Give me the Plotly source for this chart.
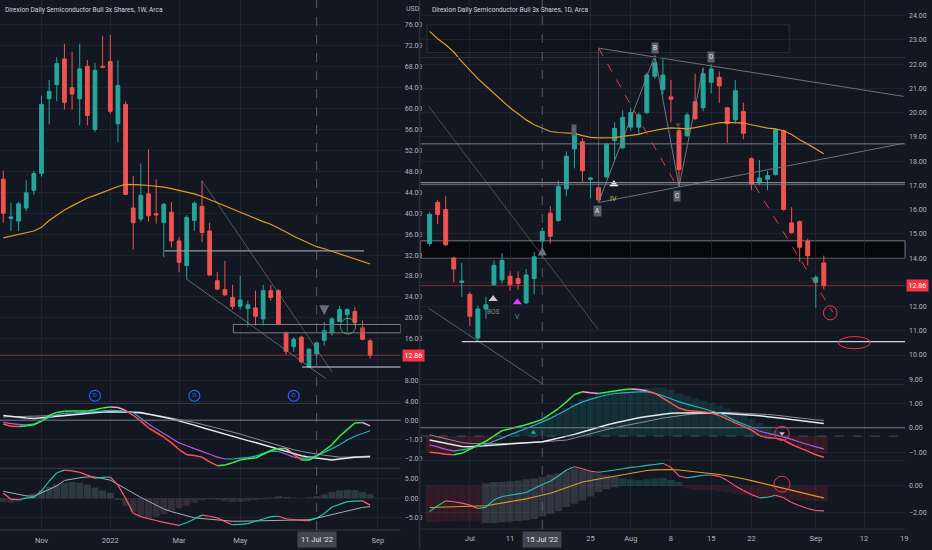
import plotly.graph_objects as go
import pandas as pd

W_PX, H_PX = 932, 550
BG = "#131722"
GRID = "rgba(42,46,57,0.55)"
TXT = "#b2b5be"
UP, DN = "#26a69a", "#ef5350"

# ---------------- weekly data (left chart) ----------------
w_cal = pd.date_range("2021-09-27", periods=54, freq="W-MON")
w_open = [46.5, 39.0, 38.5, 41.0, 44.4, 47.6, 61.9, 64.6, 69.5, 64.0, 61.9, 68.1, 56.0, 68.1, 69.0, 57.1, 60.8,
          41.0, 38.9, 43.7, 39.9, 38.2, 40.2, 34.7, 30.0, 38.6, 41.3, 36.6, 27.1, 25.4, 23.9, 22.2, 21.8, 21.9,
          19.8, 25.2, 25.2, 17.1, 14.5, 16.3, 10.6, 13.1, 15.7, 17.1, 19.3, 20.6, 21.2, 18.1, 15.6]
w_high = [48.1, 42.0, 42.2, 46.3, 48.1, 62.5, 65.5, 69.8, 72.4, 70.9, 72.4, 69.3, 68.7, 73.9, 74.1, 69.2, 61.4,
          47.1, 49.5, 52.2, 46.5, 42.0, 42.1, 35.5, 39.6, 42.3, 46.2, 38.2, 28.8, 30.9, 26.3, 28.0, 23.3, 25.2,
          26.3, 26.3, 25.5, 17.4, 16.3, 16.6, 14.2, 15.4, 19.2, 20.1, 22.3, 21.8, 22.0, 19.5, 15.9]
w_low = [38.2, 36.6, 36.6, 40.4, 43.5, 47.0, 57.0, 61.4, 59.8, 59.8, 56.8, 56.8, 55.5, 67.7, 59.0, 53.6, 43.5,
         33.1, 38.4, 38.4, 38.0, 31.6, 33.5, 28.7, 27.4, 36.6, 34.5, 28.0, 25.3, 24.2, 21.6, 21.6, 18.2, 18.5,
         18.5, 23.3, 18.6, 13.0, 13.5, 11.3, 10.4, 12.2, 14.7, 16.6, 19.2, 17.4, 18.5, 15.7, 12.2]
w_close = [40.0, 39.3, 41.8, 43.9, 47.6, 60.8, 63.3, 68.6, 61.2, 62.8, 67.6, 58.7, 67.3, 67.9, 59.5, 64.4, 43.6,
           38.2, 43.4, 39.5, 39.7, 41.7, 34.7, 30.6, 39.2, 41.9, 36.3, 28.2, 25.5, 24.4, 22.2, 23.4, 22.5, 20.3,
           25.2, 23.9, 18.7, 13.6, 15.9, 11.6, 14.0, 15.2, 17.6, 19.8, 21.6, 21.6, 19.1, 15.9, 12.86]
w_ma = [35.3, 35.6, 35.9, 36.2, 36.6, 37.3, 38.6, 39.6, 40.6, 41.4, 42.2, 42.9, 43.4, 44.0, 44.6, 45.1, 45.5,
        45.5, 45.4, 45.3, 45.2, 45.0, 44.7, 44.4, 44.1, 43.7, 43.2, 42.6, 42.0, 41.4, 40.8, 40.2, 39.6, 38.9,
        38.4, 37.9, 37.2, 36.4, 35.6, 34.9, 34.2, 33.6, 33.2, 32.7, 32.2, 31.7, 31.2, 30.8, 30.3]
w_macd_fast = [-0.2, -0.32, -0.33, -0.3, -0.24, -0.05, 0.25, 0.41, 0.47, 0.48, 0.48, 0.48, 0.55, 0.65, 0.7, 0.67,
               0.52, 0.26, -0.05, -0.4, -0.65, -0.9, -1.2, -1.55, -1.82, -1.87, -1.95, -2.2, -2.4, -2.37, -2.25,
               -2.1, -2.03, -2.0, -1.8, -1.6, -1.5, -1.5, -1.8, -2.1, -2.1, -1.9, -1.6, -1.3, -0.85, -0.5, -0.15,
               -0.12, -0.3]
w_macd_sig = [-0.12, -0.18, -0.22, -0.25, -0.2, -0.05, 0.15, 0.3, 0.36, 0.38, 0.4, 0.42, 0.45, 0.48, 0.5, 0.5,
              0.45, 0.4, 0.1, -0.2, -0.45, -0.7, -0.95, -1.2, -1.35, -1.5, -1.65, -1.8, -1.95, -2.05, -2.05, -2.0,
              -1.98, -1.9, -1.75, -1.65, -1.65, -1.8, -1.95, -2.0, -2.0, -1.85, -1.7, -1.5, -1.3, -1.05, -0.85,
              -0.7, -0.56]
w_slow_white = [0.25, 0.2, 0.15, 0.11, 0.09, 0.13, 0.17, 0.21, 0.25, 0.29, 0.33, 0.37, 0.4, 0.43, 0.44, 0.44, 0.43,
                0.42, 0.4, 0.33, 0.25, 0.16, 0.07, -0.03, -0.13, -0.26, -0.39, -0.51, -0.64, -0.76, -0.88, -0.98,
                -1.08, -1.18, -1.3, -1.42, -1.54, -1.66, -1.78, -1.88, -1.95, -2.0, -2.06, -2.1, -2.05, -1.99,
                -1.96, -1.94, -1.93]
w_slow_grey = [0.17, 0.18, 0.19, 0.2, 0.21, 0.22, 0.23, 0.24, 0.26, 0.3, 0.35, 0.4, 0.45, 0.5, 0.53, 0.51, 0.46,
               0.42, 0.38, 0.33, 0.26, 0.19, 0.12, 0.05, -0.02, -0.12, -0.22, -0.32, -0.42, -0.52, -0.61, -0.73,
               -0.86, -0.98, -1.11, -1.24, -1.36, -1.46, -1.56, -1.65, -1.73, -1.79, -1.85, -1.9, -1.95, -1.95,
               -1.93, -1.91, -1.89]
w_osc = [1.3, -0.3, -0.4, 0.0, 0.2, 1.9, 4.4, 6.6, 7.3, 7.1, 6.7, 6.0, 5.2, 5.4, 5.5, 3.4, 0.0, -3.9, -4.8, -5.3,
         -5.8, -6.3, -6.7, -7.05, -6.4, -5.4, -4.4, -4.7, -5.1, -6.1, -6.9, -6.8, -6.6, -6.0, -5.4, -4.8, -4.7,
         -5.35, -5.6, -5.8, -5.85, -5.2, -4.0, -2.3, -1.6, -0.9, -0.75, -0.7, -1.8]
w_osc_sig = [1.8, 1.4, 1.0, 0.6, 0.5, 1.4, 2.3, 3.2, 4.6, 5.0, 5.3, 5.55, 5.5, 5.1, 4.7, 3.6, 2.4, 1.2, 0.2, -0.8,
             -1.8, -2.8, -3.5, -4.0, -4.6, -5.1, -5.3, -5.5, -5.7, -5.9, -6.0, -6.0, -5.95, -5.9, -5.8, -5.7, -5.65,
             -5.6, -5.6, -5.6, -5.6, -5.2, -4.7, -4.2, -3.7, -3.2, -2.8, -2.4, -2.2]
w_hist = [-1.0, -1.2, -0.8, 0.3, 1.2, 2.2, 3.0, 3.6, 4.0, 4.2, 4.0, 3.5, 2.8, 2.0, 1.4, -0.5, -2.0, -3.5, -4.5,
          -5.0, -4.8, -4.2, -3.4, -2.6, -2.0, -1.2, -0.6, -0.3, -0.4, -0.8, -1.0, -0.9, -0.7, -0.5, -0.3, 0.2, 0.5,
          0.3, 0.1, 0.0, 0.2, 0.5, 1.0, 1.6, 2.0, 2.2, 2.1, 1.6, 1.0]
w_tick_dates = ["2021-11-01", "2022-01-03", "2022-03-07", "2022-05-02", "2022-09-05"]
w_tick_text = ["Nov", "2022", "Mar", "May", "Sep"]
w_price_ticks = [4, 8, 16, 20, 24, 28, 32, 36, 40, 44, 48, 52, 56, 60, 64, 68, 72, 76]
w_cross_date, w_cross_text = "2022-07-11", "11 Jul '22"
w_divid_dates = ["2021-12-20", "2022-03-21", "2022-06-20"]

# ---------------- daily data (right chart) ----------------
d_cal = pd.bdate_range("2022-06-24", "2022-09-30", freq="C", holidays=["2022-07-04", "2022-09-05"])
d_open = [14.6, 16.3, 16.0, 14.0, 13.0, 12.5, 10.7, 11.9, 12.9, 13.1, 13.25, 13.15, 12.15, 13.15, 14.7, 15.85,
          15.55, 16.85, 18.5, 18.8, 17.25, 16.9, 17.35, 18.85, 18.55, 19.4, 19.4, 20.0, 21.5, 20.95, 20.65, 19.25,
          19.05, 20.45, 20.2, 21.25, 21.45, 20.2, 19.7, 20.05, 18.1, 17.1, 17.25, 17.45, 19.25, 15.45, 15.5, 14.7,
          13.0, 13.8]
d_high = [15.9, 16.4, 16.55, 14.05, 13.8, 12.6, 12.05, 12.4, 13.9, 14.2, 13.45, 13.45, 13.55, 14.25, 15.25, 16.15,
          17.2, 18.4, 19.4, 18.95, 17.35, 17.0, 18.75, 19.6, 20.1, 20.2, 20.0, 21.65, 22.35, 22.2, 21.35, 19.4,
          20.0, 21.6, 21.85, 22.0, 21.7, 20.2, 21.35, 20.4, 18.15, 18.05, 17.6, 19.35, 19.3, 16.1, 15.55, 14.8,
          13.3, 14.1]
d_low = [14.5, 15.4, 14.5, 13.0, 12.4, 11.2, 10.55, 11.5, 12.85, 12.95, 12.65, 12.7, 12.1, 12.5, 14.25, 14.6,
         15.5, 16.55, 17.7, 17.15, 16.45, 16.3, 17.3, 18.05, 18.5, 19.25, 19.1, 19.95, 21.4, 20.75, 19.6, 16.95,
         19.0, 19.7, 20.05, 20.8, 20.4, 18.75, 19.55, 18.9, 16.8, 17.0, 16.8, 17.4, 15.95, 15.0, 13.85, 13.7,
         11.95, 12.7]
d_close = [15.8, 15.8, 14.55, 13.55, 13.05, 11.6, 11.9, 12.07, 13.7, 13.9, 12.9, 12.95, 13.3, 14.05, 15.1, 14.9,
           16.95, 18.2, 19.15, 17.6, 17.3, 16.4, 18.7, 19.35, 19.8, 20.0, 19.9, 21.55, 22.05, 21.55, 20.55, 17.65,
           19.9, 19.75, 21.6, 21.8, 21.1, 19.55, 20.9, 19.15, 17.05, 17.3, 17.4, 19.3, 16.0, 15.05, 14.45, 14.1,
           13.2, 12.86]
d_ma = [23.35, 23.05, 22.8, 22.5, 22.1, 21.75, 21.4, 21.1, 20.8, 20.5, 20.2, 19.95, 19.7, 19.5, 19.35, 19.22,
        19.18, 19.16, 19.14, 19.05, 18.98, 18.96, 18.96, 18.97, 19.02, 19.05, 19.1, 19.2, 19.27, 19.33, 19.37,
        19.35, 19.33, 19.38, 19.45, 19.52, 19.58, 19.6, 19.6, 19.57, 19.5, 19.42, 19.36, 19.33, 19.25, 19.1,
        18.88, 18.7, 18.5, 18.3]
d_macd_fast = [-1.0, -1.03, -1.08, -1.1, -1.04, -0.88, -0.7, -0.55, -0.33, -0.12, -0.04, 0.04, 0.12, 0.22, 0.34,
               0.55, 0.78, 1.05, 1.35, 1.46, 1.42, 1.39, 1.44, 1.49, 1.54, 1.57, 1.55, 1.5, 1.4, 1.2, 1.0, 0.8, 0.7,
               0.67, 0.65, 0.6, 0.5, 0.35, 0.2, 0.06, -0.09, -0.32, -0.41, -0.43, -0.5, -0.68, -0.82, -0.95, -1.1,
               -1.2]
d_macd_sig = [-0.7, -0.78, -0.88, -0.94, -0.9, -0.84, -0.76, -0.68, -0.55, -0.42, -0.28, -0.16, -0.03, 0.1, 0.24,
              0.38, 0.55, 0.72, 0.9, 1.05, 1.15, 1.25, 1.33, 1.39, 1.42, 1.44, 1.46, 1.46, 1.4, 1.3, 1.18, 1.05,
              0.96, 0.87, 0.78, 0.68, 0.6, 0.45, 0.28, 0.15, 0.02, -0.14, -0.22, -0.3, -0.37, -0.47, -0.58, -0.68,
              -0.78, -0.86]
d_slow_white = [-0.5, -0.56, -0.62, -0.7, -0.76, -0.77, -0.75, -0.72, -0.7, -0.68, -0.66, -0.64, -0.62, -0.6,
                -0.57, -0.5, -0.43, -0.36, -0.27, -0.17, -0.07, 0.03, 0.11, 0.19, 0.27, 0.35, 0.41, 0.46, 0.51,
                0.56, 0.59, 0.6, 0.61, 0.62, 0.62, 0.61, 0.6, 0.58, 0.57, 0.55, 0.52, 0.49, 0.45, 0.42, 0.38, 0.33,
                0.29, 0.25, 0.2, 0.17]
d_slow_grey = [-0.29, -0.37, -0.45, -0.53, -0.6, -0.64, -0.65, -0.65, -0.65, -0.65, -0.64, -0.64, -0.62, -0.6,
               -0.58, -0.55, -0.52, -0.5, -0.42, -0.33, -0.23, -0.15, -0.07, 0.0, 0.07, 0.14, 0.2, 0.27, 0.33,
               0.39, 0.44, 0.5, 0.53, 0.56, 0.59, 0.61, 0.62, 0.62, 0.61, 0.6, 0.58, 0.56, 0.54, 0.51, 0.48, 0.44,
               0.4, 0.36, 0.32, 0.3]
d_hist_top = [-1.0, -1.05, -1.05, -1.0, -0.95, -0.9, -0.8, -0.7, -0.55, -0.45, -0.35, -0.2, -0.05, 0.1, 0.25,
              0.4, 0.6, 0.8, 1.0, 1.15, 1.25, 1.35, 1.42, 1.48, 1.52, 1.55, 1.58, 1.6, 1.62, 1.62, 1.55, 1.4, 1.3,
              1.2, 1.1, 1.0, 0.9, 0.78, 0.65, 0.5, 0.35, 0.2, 0.05, -0.1, -0.5, -0.65, -0.8, -0.9, -1.0, -1.05]
d_osc = [-1.93, -1.5, -1.13, -1.2, -1.3, -1.45, -1.7, -1.6, -1.05, -0.8, -0.7, -0.6, -0.5, -0.2, 0.1, 0.35, 0.75,
         1.2, 1.45, 1.3, 1.1, 1.03, 1.1, 1.2, 1.3, 1.4, 1.45, 1.55, 1.62, 1.7, 1.4, 0.75, 0.62, 0.7, 0.8, 0.82,
         0.72, 0.4, 0.0, -0.35, -0.65, -0.9, -0.85, -0.7, -0.9, -1.25, -1.5, -1.7, -1.85, -1.88]
d_osc_sig = [-1.63, -1.62, -1.6, -1.58, -1.56, -1.54, -1.52, -1.5, -1.4, -1.31, -1.22, -1.13, -0.98, -0.84, -0.69,
             -0.55, -0.34, -0.13, 0.08, 0.3, 0.41, 0.52, 0.63, 0.75, 0.86, 0.96, 1.06, 1.16, 1.21, 1.24, 1.24, 1.2,
             1.14, 1.07, 1.02, 0.94, 0.86, 0.77, 0.68, 0.54, 0.4, 0.26, 0.13, -0.02, -0.17, -0.32, -0.47, -0.62,
             -0.77, -0.9]
d_osc_hist_low = [-2.7, -2.7, -2.65, -2.65, -2.6, -2.6, -2.6, -2.8, -2.8, -2.75, -2.7, -2.65, -2.6, -2.5, -2.3,
                  -2.1, -1.9, -1.6, -1.35, -1.1, -0.8, -0.45, -0.25, -0.1, 0.0, 0.0, 0.0, 0.0, 0.0, 0.0, 0.0, 0.0,
                  -0.2, -0.3, -0.35, -0.3, -0.4, -0.5, -0.6, -0.7, -0.8, -0.85, -0.9, -0.85, -0.9, -1.0, -1.1,
                  -1.15, -1.15, -1.15]
d_osc_hist_high = [0.0, 0.0, 0.0, 0.0, 0.0, 0.0, 0.0, 0.2, 0.3, 0.3, 0.35, 0.4, 0.5, 0.55, 0.7, 0.85, 0.95, 1.1,
                   1.3, 1.2, 1.1, 0.95, 0.85, 0.7, 0.55, 0.5, 0.45, 0.5, 0.55, 0.6, 0.45, 0.3, 0.0, 0.0, 0.0, 0.0,
                   0.0, 0.0, 0.0, 0.0, 0.0, 0.0, 0.0, 0.0, 0.0, 0.0, 0.0, 0.0, 0.0, 0.0]
d_tick_dates = ["2022-07-01", "2022-07-11", "2022-07-25", "2022-08-01", "2022-08-08",
                "2022-08-15", "2022-08-22", "2022-09-01", "2022-09-12", "2022-09-19"]
d_tick_text = ["Jul", "11", "25", "Aug", "8", "15", "22", "Sep", "12", "19"]
d_price_ticks = [9, 10, 11, 12, 14, 15, 16, 17, 18, 19, 20, 21, 22, 23, 24]
d_cross_date, d_cross_text = "2022-07-15", "15 Jul '22"
last_price = 12.86

# ---------------- helpers ----------------
w_x = list(range(len(w_close)))
d_x = list(range(len(d_close)))
wpos = lambda d: int(w_cal.get_loc(pd.Timestamp(d)))
dpos = lambda d: int(d_cal.get_loc(pd.Timestamp(d)))
px = lambda v: v / W_PX
py = lambda v: 1 - v / H_PX

fig = go.Figure()


def colored_line(x, y, colorfn, width, xa, ya):
    groups = {}
    for i in range(len(y) - 1):
        c = colorfn(i)
        gx, gy = groups.setdefault(c, ([], []))
        gx += [x[i], x[i + 1], None]
        gy += [y[i], y[i + 1], None]
    for c, (gx, gy) in groups.items():
        fig.add_trace(go.Scatter(x=gx, y=gy, mode="lines", line=dict(color=c, width=width), xaxis=xa, yaxis=ya,
                                 hoverinfo="skip", showlegend=False))


def line(x, y, color, width, xa, ya, dash="solid"):
    fig.add_trace(go.Scatter(x=x, y=y, mode="lines", line=dict(color=color, width=width, dash=dash),
                             xaxis=xa, yaxis=ya, hoverinfo="skip", showlegend=False))


def fast_color(fast, sig):
    def f(i):
        if fast[i + 1] >= fast[i]:
            return "#3ef03e"
        return "#f7a1c4" if fast[i + 1] > sig[i + 1] else "#ff5252"
    return f


def sig_color(sig):
    return lambda i: "#2ab0c8" if (sig[i + 1] >= sig[i] or sig[i + 1] > 0) else "#b558e0"


def osc_color(v):
    return lambda i: "#2cc0b0" if v[i + 1] >= v[i] else "#ff5b6e"


# ---------------- left chart traces ----------------
fig.add_trace(go.Bar(x=w_x, y=w_hist, xaxis="x3", yaxis="y3", width=0.92, hoverinfo="skip", showlegend=False,
                     marker=dict(color=["rgba(110,140,140,0.3)" if v >= 0 else "rgba(120,100,110,0.3)"
                                        for v in w_hist], line=dict(width=0))))
fig.add_trace(go.Candlestick(x=w_x, open=w_open, high=w_high, low=w_low, close=w_close, xaxis="x", yaxis="y",
                             increasing=dict(line=dict(color=UP, width=1), fillcolor=UP),
                             decreasing=dict(line=dict(color=DN, width=1), fillcolor=DN),
                             whiskerwidth=0, hoverinfo="skip", showlegend=False))
line(w_x, w_ma, "#e39b24", 1.2, "x", "y")
line(w_x, w_slow_grey, "#8c8f99", 1, "x2", "y2")
line(w_x, w_slow_white, "#e8e8ee", 1.5, "x2", "y2")
colored_line(w_x, w_macd_sig, sig_color(w_macd_sig), 1.2, "x2", "y2")
colored_line(w_x, w_macd_fast, fast_color(w_macd_fast, w_macd_sig), 1.5, "x2", "y2")
line(w_x, w_osc_sig, "#a9acb5", 1, "x3", "y3")
colored_line(w_x, w_osc, osc_color(w_osc), 1.2, "x3", "y3")

# dividend markers
div_x = [wpos(d) for d in w_divid_dates]
fig.add_trace(go.Scatter(x=div_x, y=[5.1] * len(div_x), mode="markers+text", text=["D"] * len(div_x),
                         textfont=dict(color="#2962ff", size=6, family="Roboto"),
                         marker=dict(symbol="circle-open", size=11, color="#2962ff", line=dict(width=1.2)),
                         xaxis="x", yaxis="y", hoverinfo="skip", showlegend=False))
# arrow marker
fig.add_trace(go.Scatter(x=[wpos("2022-07-18")], y=[w_high[42] + 1.3], mode="markers",
                         marker=dict(symbol="arrow-down", size=10, color="#6a6d78"),
                         xaxis="x", yaxis="y", hoverinfo="skip", showlegend=False))

# ---------------- right chart traces ----------------
fig.add_trace(go.Bar(x=d_x, y=[t + 0.34 for t in d_hist_top], base=-0.34, xaxis="x5", yaxis="y5", width=0.95,
                     hoverinfo="skip", showlegend=False,
                     marker=dict(color=["rgba(38,166,154,0.17)" if t > -0.34 else "rgba(242,54,69,0.15)"
                                        for t in d_hist_top], line=dict(width=0))))
fig.add_trace(go.Bar(x=d_x, y=[h - l for h, l in zip(d_osc_hist_high, d_osc_hist_low)], base=d_osc_hist_low,
                     xaxis="x6", yaxis="y6", width=0.95, hoverinfo="skip", showlegend=False,
                     marker=dict(color=["rgba(242,54,69,0.14)" if h <= 0 else
                                        ("rgba(38,166,154,0.25)" if l >= 0 else "rgba(140,145,155,0.25)")
                                        for h, l in zip(d_osc_hist_high, d_osc_hist_low)], line=dict(width=0))))
fig.add_trace(go.Candlestick(x=d_x, open=d_open, high=d_high, low=d_low, close=d_close, xaxis="x4", yaxis="y4",
                             increasing=dict(line=dict(color=UP, width=1), fillcolor=UP),
                             decreasing=dict(line=dict(color=DN, width=1), fillcolor=DN),
                             whiskerwidth=0, hoverinfo="skip", showlegend=False))
line(d_x, d_ma, "#e39b24", 1.2, "x4", "y4")
line(d_x, d_slow_grey, "#8c8f99", 1, "x5", "y5")
line(d_x, d_slow_white, "#e8e8ee", 1.5, "x5", "y5")
colored_line(d_x, d_macd_sig, sig_color(d_macd_sig), 1.2, "x5", "y5")
colored_line(d_x, d_macd_fast, fast_color(d_macd_fast, d_macd_sig), 1.5, "x5", "y5")
line(d_x, d_osc_sig, "#e39b24", 1.1, "x6", "y6")
colored_line(d_x, d_osc, osc_color(d_osc), 1.1, "x6", "y6")

# wave / structure points
A_i, B_i, C_i, D_i = 21, 28, 31, 35
line([A_i, B_i, C_i, D_i - 1], [d_low[A_i], d_high[B_i], d_low[C_i], d_high[D_i - 1]], "#8a8d96", 0.8, "x4", "y4")
line([A_i, 30.6], [22.66, 17.04], "#f23645", 1, "x4", "y4", "dash")
line([40.4, 50.1], [17.0, 11.77], "#f23645", 1, "x4", "y4", "dash")
line([A_i, 58.9], [22.66, 20.67], "#6f727c", 1, "x4", "y4")
line([A_i, 58.9], [16.29, 18.73], "#6f727c", 1, "x4", "y4")
line([A_i, A_i], [16.29, 22.66], "#5d606b", 0.8, "x4", "y4")
line([-0.12, 20.9], [20.26, 11.08], "rgba(130,160,140,0.55)", 0.8, "x4", "y4")
line([-0.12, 14.3], [11.93, 8.75], "#6f727c", 0.8, "x4", "y4")

fig.add_trace(go.Scatter(x=[22.9, 7.9], y=[17.04, 12.31], mode="markers",
                         marker=dict(symbol="triangle-up", size=8, color=["#ffffff", "#c8cad0"]),
                         xaxis="x4", yaxis="y4", hoverinfo="skip", showlegend=False))
fig.add_trace(go.Scatter(x=[10.9], y=[12.18], mode="markers",
                         marker=dict(symbol="triangle-up", size=8, color="#e040fb"),
                         xaxis="x4", yaxis="y4", hoverinfo="skip", showlegend=False))
fig.add_trace(go.Scatter(x=[14.0], y=[14.48], mode="markers",
                         marker=dict(symbol="arrow-up", size=9, color="#6a6d78"),
                         xaxis="x4", yaxis="y4", hoverinfo="skip", showlegend=False))
fig.add_trace(go.Scatter(x=[30.9], y=[19.5], mode="markers",
                         marker=dict(symbol="triangle-down", size=5, color="#4a4d57"),
                         xaxis="x4", yaxis="y4", hoverinfo="skip", showlegend=False))
fig.add_trace(go.Scatter(x=[12.9], y=[-0.19], mode="markers",
                         marker=dict(symbol="triangle-up", size=5, color="#26a69a"),
                         xaxis="x5", yaxis="y5", hoverinfo="skip", showlegend=False))
fig.add_trace(go.Scatter(x=[43.8], y=[-0.23], mode="markers",
                         marker=dict(symbol="triangle-down", size=5, color="#f7a1c4"),
                         xaxis="x5", yaxis="y5", hoverinfo="skip", showlegend=False))

# ---------------- axes ----------------
L_DOM = [0, px(402)]
R_DOM = [px(422), px(908)]
L_XR = [-0.43, 52.0]
R_XR = [-1.115, 59.1]
tickfont = dict(family="Roboto", size=7, color=TXT)

w_tick_x = [wpos(d) for d in w_tick_dates]
d_tick_x = [dpos(d) for d in d_tick_dates]


def xax(dom, rng, tv, tt, anchor, show):
    return dict(domain=dom, range=rng, anchor=anchor, tickvals=tv, ticktext=tt, showticklabels=show,
                showgrid=True, gridcolor=GRID, gridwidth=1, zeroline=False, showline=False, ticks="",
                tickfont=dict(family="Roboto", size=7.5, color=TXT), ticklabelstandoff=4,
                rangeslider=dict(visible=False), fixedrange=True)


def yax(dom, rng, tv, anchor):
    return dict(domain=dom, range=rng, anchor=anchor, side="right", tickvals=tv, tickformat=".2f",
                showgrid=True, gridcolor=GRID, gridwidth=1, zeroline=False, showline=False, ticks="",
                tickfont=tickfont, ticklabelstandoff=3, fixedrange=True)


fig.update_layout(
    width=W_PX, height=H_PX, margin=dict(l=0, r=0, t=0, b=0),
    paper_bgcolor=BG, plot_bgcolor=BG, showlegend=False, hovermode=False, boxgap=0.3, barmode="overlay",
    xaxis=xax(L_DOM, L_XR, w_tick_x, w_tick_text, "y", False),
    xaxis2=xax(L_DOM, L_XR, w_tick_x, w_tick_text, "y2", False),
    xaxis3=xax(L_DOM, L_XR, w_tick_x, w_tick_text, "y3", True),
    xaxis4=xax(R_DOM, R_XR, d_tick_x, d_tick_text, "y4", False),
    xaxis5=xax(R_DOM, R_XR, d_tick_x, d_tick_text, "y5", False),
    xaxis6=xax(R_DOM, R_XR, d_tick_x, d_tick_text, "y6", True),
    yaxis=yax([py(405), 1], [3.62, 80.76], w_price_ticks, "x"),
    yaxis2=yax([py(470), py(405)], [-2.54, 0.88], [0, -1, -2], "x2"),
    yaxis3=yax([py(532), py(470)], [-8.29, 7.77], [5, 0, -5], "x3"),
    yaxis4=yax([py(386), 1], [8.78, 24.645], d_price_ticks, "x4"),
    yaxis5=yax([py(462), py(386)], [-1.324, 1.753], [1, 0, -1], "x5"),
    yaxis6=yax([py(530), py(462)], [-3.18, 1.93], [0, -2], "x6"),
)

# ---------------- shapes ----------------
shapes = []


def hline(xref, yref, y, color, width=1, x0=0, x1=1, dash="solid", layer="above"):
    shapes.append(dict(type="line", xref=xref, yref=yref, x0=x0, x1=x1, y0=y, y1=y, layer=layer,
                       line=dict(color=color, width=width, dash=dash)))


def seg(xref, yref, x0, y0, x1, y1, color, width=1, dash="solid"):
    shapes.append(dict(type="line", xref=xref, yref=yref, x0=x0, x1=x1, y0=y0, y1=y1, layer="above",
                       line=dict(color=color, width=width, dash=dash)))


# pane separators
for yy in (405, 470, 532):
    seg("paper", "paper", 0, py(yy), px(402), py(yy), "#363a45", 1)
for yy in (386, 462, 531):
    seg("paper", "paper", px(422), py(yy), px(908), py(yy), "#2a2e39", 1)
seg("paper", "paper", px(421), 0, px(421), 1, "#2a2e39", 1.5)

# left drawings
hline("x domain", "y", 12, GRID, 1, layer="below")
hline("x domain", "y", last_price, "rgba(242,54,69,0.55)", 1)
seg("x", "y", 21.1, 32.8, 47.2, 32.8, "#9598a1", 1.2)
seg("x", "y", 26.0, w_high[26], 43.0, 9.7, "rgba(140,170,155,0.6)", 0.8)
seg("x", "y", 24.0, w_low[24], 42.2, 8.38, "#7d808a", 0.8)
shapes.append(dict(type="rect", xref="x", yref="y", x0=30.1, x1=52.0, y0=17.14, y1=18.73, layer="above",
                   fillcolor="rgba(0,0,0,0.15)", line=dict(color="#787b86", width=1)))
seg("x", "y", 39.1, 10.6, 52.0, 10.6, "#d1d4dc", 1.2)
shapes.append(dict(type="circle", xref="x", yref="y", x0=44.1, x1=46.1, y0=16.9, y1=19.9, layer="above",
                   line=dict(color="rgba(110,180,140,0.75)", width=1)))
hline("x2 domain", "y2", 0, "#787b86", 1)
seg("x", "paper", wpos(w_cross_date), py(532), wpos(w_cross_date), 1, "#6a6d78", 0.8, "dash")

# right drawings
shapes.append(dict(type="rect", xref="x4", yref="y4", x0=-0.33, x1=44.7, y0=22.48, y1=23.62, layer="below",
                   fillcolor="rgba(10,12,18,0.35)", line=dict(color="#2a2e39", width=1)))
hline("x4 domain", "y4", 22.27, "#2a2e39", 1)
shapes.append(dict(type="rect", xref="x4 domain", yref="y4", x0=0, x1=1, y0=13.99, y1=14.71, layer="below",
                   fillcolor="#06070b", line=dict(color="#787b86", width=1)))
hline("x4 domain", "y4", 18.71, "#787b86", 1)
hline("x4 domain", "y4", 17.11, "#9598a1", 1)
hline("x4 domain", "y4", 17.04, "#787b86", 0.8)
hline("x4 domain", "y4", 13, GRID, 1, layer="below")
hline("x4 domain", "y4", last_price, "rgba(242,54,69,0.55)", 1)
seg("x4", "y4", 4.0, 10.55, R_XR[1], 10.55, "#d1d4dc", 1.2)
shapes.append(dict(type="circle", xref="x4", yref="y4", x0=48.95, x1=50.65, y0=11.45, y1=12.03, layer="above",
                   line=dict(color="#f23645", width=1)))
shapes.append(dict(type="circle", xref="x4", yref="y4", x0=50.8, x1=54.8, y0=10.26, y1=10.76, layer="above",
                   line=dict(color="#f23645", width=1)))
hline("x5 domain", "y5", 0, "#787b86", 1)
hline("x5 domain", "y5", -0.34, "#5d606b", 0.8, dash="dash")
shapes.append(dict(type="circle", xref="x5", yref="y5", x0=42.9, x1=44.7, y0=-0.52, y1=0.06, layer="above",
                   line=dict(color="#f23645", width=1)))
shapes.append(dict(type="circle", xref="x6", yref="y6", x0=42.8, x1=44.8, y0=-0.47, y1=0.73, layer="above",
                   line=dict(color="#f23645", width=1)))
seg("x4", "paper", dpos(d_cross_date), py(531), dpos(d_cross_date), 1, "#6a6d78", 0.8, "dash")

fig.update_layout(shapes=shapes)

# ---------------- annotations ----------------
ann = []
titlefont = dict(family="Roboto", size=6.6, color="#d1d4dc")
ann.append(dict(text="Direxion Daily Semiconductor Bull 3x Shares, 1W, Arca", xref="paper", yref="paper",
                x=px(3), y=py(10), xanchor="left", yanchor="middle", showarrow=False, font=titlefont))
ann.append(dict(text="Direxion Daily Semiconductor Bull 3x Shares, 1D, Arca", xref="paper", yref="paper",
                x=px(431), y=py(10), xanchor="left", yanchor="middle", showarrow=False, font=titlefont))
ann.append(dict(text="USD", xref="paper", yref="paper", x=px(405), y=py(9), xanchor="left", yanchor="middle",
                showarrow=False, font=dict(family="Roboto", size=7, color=TXT)))
for xr, yr, xp in (("paper", "y", 402), ("paper", "y4", 908)):
    ann.append(dict(text="%.2f" % last_price, xref=xr, yref=yr, x=px(xp + 1), y=last_price, xanchor="left",
                    yanchor="middle", showarrow=False, bgcolor="#f23645", borderpad=1.5,
                    font=dict(family="Roboto", size=7, color="#ffffff")))
for xr, xv, txt in (("x3", wpos(w_cross_date), w_cross_text), ("x6", dpos(d_cross_date), d_cross_text)):
    ann.append(dict(text=txt, xref=xr, yref="paper", x=xv, y=py(541), xanchor="center", yanchor="middle",
                    showarrow=False, bgcolor="#434651", borderpad=3,
                    font=dict(family="Roboto", size=7.5, color="#e0e3eb")))
lbl = dict(showarrow=False, bgcolor="#5d606b", borderpad=1, font=dict(family="Roboto", size=6.5, color="#e0e3eb"),
           xref="x4", yref="y4", xanchor="center", yanchor="middle")
ann.append(dict(lbl, text="B", x=B_i, y=d_high[B_i] + 0.33))
ann.append(dict(lbl, text="D", x=D_i, y=d_high[D_i] + 0.3))
ann.append(dict(lbl, text="A", x=A_i - 0.1, y=d_low[A_i] - 0.36))
ann.append(dict(lbl, text="C", x=C_i - 0.2, y=d_low[C_i] - 0.4))
ann.append(dict(lbl, text="·", x=18, y=d_high[18] - 0.1))
ann.append(dict(text="IV", x=22.8, y=16.43, xref="x4", yref="y4", showarrow=False,
                font=dict(family="Roboto", size=7, color="#c8c83a")))
ann.append(dict(text="BOS", x=7.9, y=11.78, xref="x4", yref="y4", showarrow=False,
                font=dict(family="Roboto", size=6.5, color="#8a8d96")))
ann.append(dict(text="V", x=10.9, y=11.56, xref="x4", yref="y4", showarrow=False,
                font=dict(family="Roboto", size=7, color="#26a69a")))
fig.update_layout(annotations=ann)

fig.write_html("out.html", config={"displayModeBar": False},
               post_script="document.body.style.margin='0';document.body.style.padding='0';"
                           "document.body.style.background='#131722';")
